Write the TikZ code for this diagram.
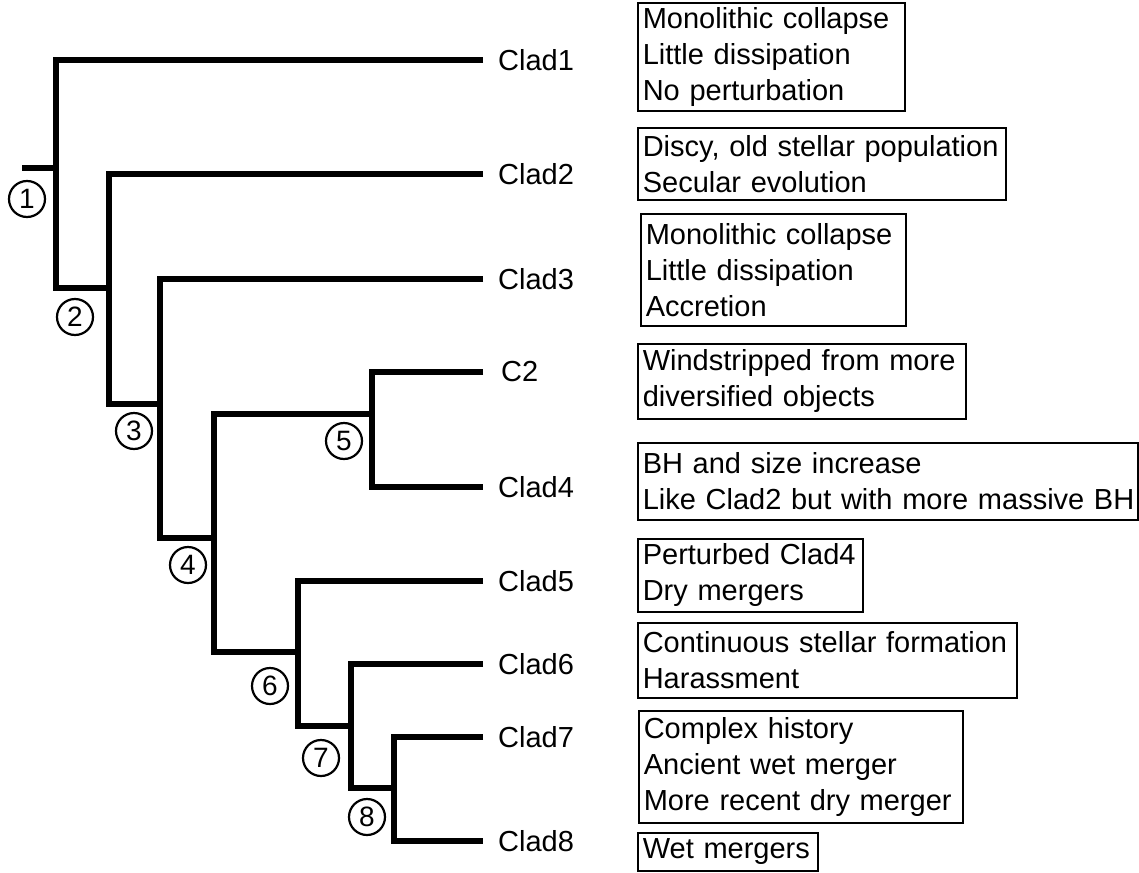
\documentclass[tikz,border=0pt]{standalone}
\usepackage{fontspec}
\setmainfont{Liberation Sans}
\begin{document}
\begin{tikzpicture}[x=1pt,y=-1pt,
  branch/.style={line width=6pt, line join=miter, line cap=butt},
  leaf/.style={anchor=west, inner sep=0pt, font=\fontsize{29}{36}\selectfont},
  num/.style={circle, draw, line width=2.2pt, minimum size=36pt, inner sep=0pt, font=\fontsize{28}{34}\selectfont},
  info/.style={draw, line width=1.6pt, anchor=north west, align=left, inner xsep=5pt, inner ysep=0pt, font=\fontsize{29}{36}\selectfont}]
\useasboundingbox (0,0) rectangle (1139,872);

% junctions
\coordinate (r)  at (22,168);
\coordinate (n1) at (56,168);
\coordinate (n2) at (109,288);
\coordinate (n3) at (160,404);
\coordinate (n4) at (214,538);
\coordinate (n5) at (372,414);
\coordinate (n6) at (298,652);
\coordinate (n7) at (351,726);
\coordinate (n8) at (394,788);
% leaf ends
\coordinate (e1) at (483,60);
\coordinate (e2) at (483,174);
\coordinate (e3) at (483,279);
\coordinate (e4) at (483,372);
\coordinate (e5) at (483,487);
\coordinate (e6) at (483,581);
\coordinate (e7) at (483,664);
\coordinate (e8) at (483,737);
\coordinate (e9) at (483,841);

% tree
\draw[branch] (r) -- (n1);
\draw[branch] (e1) -| (n1) |- (n2);
\draw[branch] (e2) -| (n2) |- (n3);
\draw[branch] (e3) -| (n3) |- (n4);
\draw[branch] (n5) -| (n4) |- (n6);
\draw[branch] (e4) -| (n5) |- (e5);
\draw[branch] (e6) -| (n6) |- (n7);
\draw[branch] (e7) -| (n7) |- (n8);
\draw[branch] (e8) -| (n8) |- (e9);

% leaf labels
\node[leaf] (l1) at (498,60) {Clad1};
\node[leaf] (l2) at (498,174) {Clad2};
\node[leaf] (l3) at (498,279) {Clad3};
\node[leaf] (l4) at (501,372) {C2};
\node[leaf] (l5) at (498,487) {Clad4};
\node[leaf] (l6) at (498,581) {Clad5};
\node[leaf] (l7) at (498,664) {Clad6};
\node[leaf] (l8) at (498,737) {Clad7};
\node[leaf] (l9) at (498,841) {Clad8};

% numbered circles
\node[num] (c1) at (27,199) {1};
\node[num] (c2) at (75,317) {2};
\node[num] (c3) at (134,431) {3};
\node[num] (c4) at (188,565) {4};
\node[num] (c5) at (344,441) {5};
\node[num] (c6) at (270,686) {6};
\node[num] (c7) at (321,758) {7};
\node[num] (c8) at (367,817) {8};

% description boxes
\node[info, text width=257pt, minimum height=108pt] (b1) at (637,2) {Monolithic collapse\\Little dissipation\\No perturbation};
\node[info, text width=358pt, minimum height=72pt] (b2) at (637,127) {\mbox{Discy, old stellar population}\\Secular evolution};
\node[info, text width=255pt, minimum height=112pt] (b3) at (640,213) {Monolithic collapse\\Little dissipation\\Accretion};
\node[info, text width=318pt, minimum height=75pt] (b4) at (637,343) {\mbox{Windstripped from more}\\diversified objects};
\node[info, text width=490pt, minimum height=77pt] (b5) at (637,442) {BH and size increase\\\mbox{Like Clad2 but with more massive BH}};
\node[info, text width=215pt, minimum height=73pt] (b6) at (637,538) {\mbox{Perturbed Clad4}\\Dry mergers};
\node[info, text width=369pt, minimum height=75pt] (b7) at (637,622) {\mbox{Continuous stellar formation}\\Harassment};
\node[info, text width=314pt, minimum height=112pt] (b8) at (638,710) {Complex history\\Ancient wet merger\\\mbox{More recent dry merger}};
\node[info, text width=170pt, minimum height=38pt] (b9) at (637,832) {\mbox{Wet mergers}};
\end{tikzpicture}
\end{document}
